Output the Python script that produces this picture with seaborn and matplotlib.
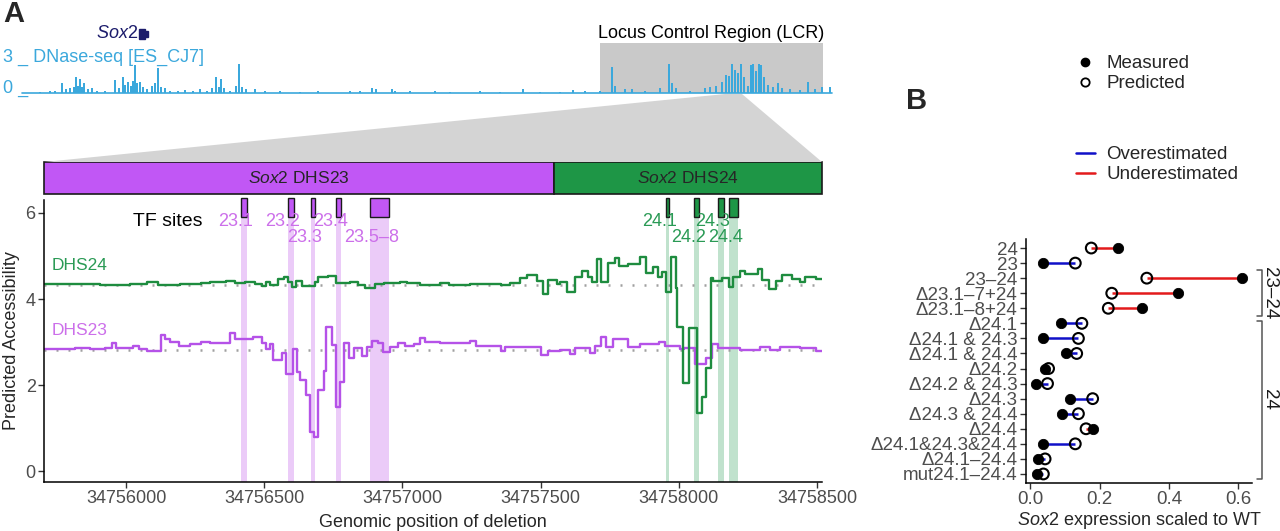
# Sox2 LCR: predicted accessibility of deletion scan (A) and expression (B)

import numpy as np
import pandas as pd
import matplotlib
matplotlib.use("Agg")
import matplotlib.pyplot as plt
import matplotlib.transforms as mtransforms
from matplotlib.patches import Polygon, Rectangle
from matplotlib.lines import Line2D
import seaborn as sns

sns.set_theme(style="white")
plt.rcParams['font.family'] = ['Liberation Sans', 'DejaVu Sans']
plt.rcParams['mathtext.fontset'] = 'custom'
plt.rcParams['mathtext.it'] = 'Liberation Sans:italic'
plt.rcParams['mathtext.rm'] = 'Liberation Sans'

# ---- data: DNase-seq overview track (track position, signal) ----
dnase_pos = [40, 50, 55, 62, 66, 70, 74, 76, 78, 80, 82, 84, 88, 92, 97, 105, 115, 119, 123, 125,
             128, 131, 133, 135, 137, 140, 143, 147, 152, 155, 158, 161, 165, 170, 178, 185, 193, 200,
             207, 212, 216, 219, 221, 224, 230, 236, 239, 242, 246, 255, 265, 280, 300, 318, 350, 360,
             372, 376, 392, 395, 410, 435, 450, 480, 500, 523, 540, 560, 573, 585, 600, 612, 615, 625,
             632, 645, 660, 669, 672, 676, 690, 705, 710, 716, 722, 726, 729, 732, 735, 738, 741, 744,
             748, 751, 753, 756, 759, 761, 764, 768, 773, 778, 782, 790, 800, 808, 815, 822, 830]
dnase_sig = [0.1, 0.15, 0.2, 0.8, 0.3, 0.45, 0.5, 1.3, 0.6, 1.2, 0.5, 0.8, 0.3, 0.4, 0.2, 0.15, 1.1, 0.4, 1.3, 0.7,
             0.9, 0.6, 1.0, 2.3, 0.8, 0.9, 0.5, 0.3, 0.6, 0.8, 2.1, 0.5, 0.4, 0.2, 0.2, 0.25, 0.15, 0.3,
             0.2, 0.4, 1.3, 0.5, 1.2, 0.4, 0.2, 0.6, 2.4, 0.5, 0.3, 0.3, 0.15, 0.15, 0.1, 0.15, 0.2, 0.15,
             0.4, 0.3, 0.35, 0.2, 0.15, 0.15, 0.1, 0.15, 0.1, 0.3, 0.1, 0.12, 0.25, 0.15, 0.2, 2.2, 0.6, 0.35,
             0.3, 0.2, 0.4, 2.4, 0.8, 0.4, 0.2, 0.4, 0.5, 0.6, 0.9, 1.5, 1.4, 2.4, 1.9, 1.7, 2.4, 1.3,
             0.6, 2.3, 2.4, 1.8, 2.4, 2.3, 1.3, 0.7, 0.5, 0.8, 0.4, 0.3, 0.25, 0.9, 0.3, 0.5, 0.5]
lcr_span = (600, 823)

# ---- data: predicted accessibility per deletion position ----
x_start, x_end = 34755703, 34758518
dhs_split = 34757548

dhs23_pos = [34755705, 34755760, 34755815, 34755870, 34755925, 34755950, 34755965, 34756025, 34756045, 34756075,
             34756125, 34756140, 34756160, 34756190, 34756230, 34756270, 34756305, 34756375, 34756395, 34756460,
             34756490, 34756505, 34756520, 34756530, 34756565, 34756580, 34756605, 34756620, 34756630, 34756650,
             34756665, 34756680, 34756695, 34756715, 34756725, 34756745, 34756760, 34756775, 34756790, 34756805,
             34756825, 34756855, 34756870, 34756890, 34756910, 34756930, 34756955, 34756985, 34757010, 34757040,
             34757065, 34757080, 34757135, 34757245, 34757265, 34757355, 34757370, 34757500, 34757525, 34757570,
             34757605, 34757625, 34757680, 34757695, 34757720, 34757735, 34757760, 34757815, 34757860, 34757930,
             34757950, 34758005, 34758020, 34758060, 34758100, 34758120, 34758140, 34758220, 34758295, 34758330,
             34758365, 34758440, 34758495]
dhs23_acc = [2.85, 2.83, 2.86, 2.84, 2.86, 2.98, 2.86, 2.90, 2.85, 2.79,
             3.16, 3.08, 3.00, 2.90, 2.95, 3.00, 2.98, 3.20, 3.07, 3.12,
             2.98, 2.83, 2.95, 2.58, 2.74, 2.26, 2.84, 2.30, 2.12, 1.77,
             0.91, 0.79, 1.88, 2.33, 3.35, 2.93, 1.49, 2.07, 2.98, 2.63,
             2.86, 2.67, 2.88, 3.02, 2.98, 2.77, 2.88, 2.98, 2.90, 2.95,
             3.10, 3.00, 2.98, 3.03, 2.90, 2.80, 2.88, 2.70, 2.80, 2.81,
             2.72, 2.86, 2.74, 2.90, 3.12, 2.88, 3.07, 2.88, 2.95, 3.00,
             2.90, 2.84, 2.86, 2.49, 2.62, 2.95, 2.86, 2.81, 2.88, 2.81,
             2.88, 2.86, 2.79]

dhs24_pos = [34755705, 34755835, 34755905, 34756015, 34756075, 34756115, 34756195, 34756270, 34756305, 34756360,
             34756395, 34756430, 34756465, 34756490, 34756505, 34756520, 34756550, 34756570, 34756585, 34756600,
             34756615, 34756635, 34756685, 34756695, 34756730, 34756760, 34756810, 34756840, 34756865, 34756900,
             34756935, 34756990, 34757015, 34757065, 34757135, 34757170, 34757245, 34757355, 34757390, 34757425,
             34757450, 34757485, 34757510, 34757525, 34757560, 34757570, 34757595, 34757625, 34757650, 34757670,
             34757685, 34757705, 34757720, 34757745, 34757770, 34757785, 34757815, 34757860, 34757880, 34757905,
             34757925, 34757940, 34757955, 34757970, 34757990, 34757995, 34758015, 34758035, 34758065, 34758085,
             34758100, 34758115, 34758125, 34758155, 34758180, 34758195, 34758220, 34758240, 34758285, 34758300,
             34758325, 34758350, 34758375, 34758410, 34758440, 34758455, 34758495]
dhs24_acc = [4.34, 4.36, 4.33, 4.36, 4.40, 4.33, 4.36, 4.37, 4.40, 4.42,
             4.37, 4.39, 4.35, 4.30, 4.40, 4.33, 4.46, 4.51, 4.40, 4.28,
             4.42, 4.30, 4.40, 4.51, 4.53, 4.37, 4.40, 4.33, 4.26, 4.35,
             4.37, 4.40, 4.37, 4.33, 4.37, 4.33, 4.36, 4.33, 4.37, 4.48,
             4.55, 4.42, 4.12, 4.44, 4.36, 4.40, 4.17, 4.52, 4.65, 4.52,
             4.40, 4.93, 4.40, 4.84, 4.95, 4.77, 4.81, 4.98, 4.60, 4.75,
             4.51, 4.63, 4.17, 4.98, 4.26, 3.35, 2.05, 3.33, 1.35, 1.72,
             2.40, 4.49, 4.42, 4.49, 4.28, 4.51, 4.65, 4.58, 4.70, 4.44,
             4.23, 4.42, 4.56, 4.47, 4.40, 4.51, 4.47]

wt23, wt24 = 2.81, 4.33

# TF sites
tf_names = ['23.1', '23.2', '23.3', '23.4', '23.5\u20138', '24.1', '24.2', '24.3', '24.4']
tf_start = [34756415, 34756585, 34756669, 34756760, 34756883, 34757954, 34758055, 34758142, 34758182]
tf_end = [34756438, 34756608, 34756684, 34756778, 34756952, 34757965, 34758073, 34758164, 34758214]
tf_row = [0, 0, 1, 0, 1, 0, 1, 0, 1]

# ---- data: panel B ----
constructs = ['24', '23', '23\u201324', '\u039423.1\u20137+24', '\u039423.1\u20138+24', '\u039424.1',
              '\u039424.1 & 24.3', '\u039424.1 & 24.4', '\u039424.2', '\u039424.2 & 24.3', '\u039424.3',
              '\u039424.3 & 24.4', '\u039424.4', '\u039424.1&24.3&24.4', '\u039424.1\u201324.4',
              'mut24.1\u201324.4']
measured = [0.254, 0.038, 0.611, 0.427, 0.323, 0.089, 0.038, 0.102, 0.043, 0.016, 0.115, 0.091, 0.182,
            0.038, 0.022, 0.020]
predicted = [0.176, 0.130, 0.336, 0.235, 0.225, 0.149, 0.139, 0.134, 0.053, 0.050, 0.180, 0.139, 0.161,
             0.130, 0.043, 0.038]

PURPLE = '#C157F5'
GREEN = '#1E9646'
PURPLE_LINE = '#B552E8'
GREEN_LINE = '#1E8C3F'
PURPLE_TXT = '#CC6FEA'
GREEN_TXT = '#2A9A55'
PURPLE_BAND = '#EBCBF8'
GREEN_BAND = '#C0E2CD'
DNASE = '#3BA8DC'
TICK_TXT = '#4D4D4D'

W, H = 1280, 531
fig = plt.figure(figsize=(W / 100, H / 100), dpi=100)


def fx(px):
    return px / W


def fy(py):
    return 1 - py / H


def box(l, t, r, b):
    return [fx(l), fy(b), fx(r) - fx(l), fy(t) - fy(b)]


# ---- zoom wedge between overview and DHS bar ----
fig.patches.append(Polygon([(fx(725), fy(94)), (fx(742), fy(94)), (fx(822), fy(162)), (fx(44), fy(162))],
                           closed=True, transform=fig.transFigure, facecolor='#D4D4D4',
                           edgecolor='none', zorder=0))

# ---- overview DNase track ----
axt = fig.add_axes(box(20, 40, 835, 95))
axt.set_facecolor('none')
axt.set_xlim(20, 835)
axt.set_ylim(-0.167, 4.42)
axt.axis('off')
axt.bar(lcr_span[0], 4.17, width=lcr_span[1] - lcr_span[0], align='edge', color='#C9C9C9', lw=0,
        zorder=0)
axt.plot([22, 832], [0, 0], color=DNASE, lw=1.2, zorder=1)
axt.bar(dnase_pos, dnase_sig, width=2.8, color=DNASE, lw=0, edgecolor='none', zorder=2)
axt.text(sum(lcr_span) / 2, 5.0, 'Locus Control Region (LCR)', ha='center', va='center', fontsize=13,
         color='black')

fig.text(fx(3), fy(57), '3 _ DNase-seq [ES_CJ7]', color=DNASE, fontsize=13, va='center')
fig.text(fx(3), fy(88), '0 _', color=DNASE, fontsize=13, va='center')
fig.text(fx(96), fy(34), r'$\it{Sox2}$', color='#1B1B6B', fontsize=13, va='center')
fig.patches.append(Rectangle((fx(139), fy(39)), fx(6), 10 / H, transform=fig.transFigure,
                             color='#1B1B6B'))
fig.patches.append(Rectangle((fx(145), fy(37)), fx(3), 6 / H, transform=fig.transFigure, color='#1B1B6B'))
fig.text(fx(3), fy(14), 'A', fontsize=21, fontweight='bold', va='center')
fig.text(fx(906), fy(101), 'B', fontsize=21, fontweight='bold', va='center')

# ---- DHS bar ----
axbar = fig.add_axes(box(44, 162, 822, 194))
axbar.set_facecolor('none')
axbar.set_xlim(x_start, x_end)
axbar.set_ylim(0, 1)
axbar.axis('off')
axbar.bar(x_start, 1, width=dhs_split - x_start, align='edge', color=PURPLE, edgecolor='#1A1A1A',
          lw=1.2, clip_on=False)
axbar.bar(dhs_split, 1, width=x_end - dhs_split, align='edge', color=GREEN, edgecolor='#1A1A1A',
          lw=1.2, clip_on=False)
axbar.text((x_start + dhs_split) / 2, 0.5, r'$\it{Sox2}$ DHS23', ha='center', va='center', fontsize=12.5)
axbar.text((dhs_split + x_end) / 2, 0.5, r'$\it{Sox2}$ DHS24', ha='center', va='center', fontsize=12.5)

# ---- main accessibility panel ----
ax = fig.add_axes(box(44, 200, 822, 482))
ax.set_facecolor('none')
ymin, ymax = -0.25, 6.3
for name, s, e, r in zip(tf_names, tf_start, tf_end, tf_row):
    is23 = name.startswith('23')
    band = PURPLE_BAND if is23 else GREEN_BAND
    ax.bar(s, 5.91 - ymin, width=e - s, bottom=ymin, align='edge', color=band, lw=0, zorder=0)
    ax.bar(s, 6.35 - 5.91, width=e - s, bottom=5.91, align='edge', color=PURPLE if is23 else GREEN,
           edgecolor='#1A1A1A', lw=1.0, clip_on=False, zorder=3)
    ax.text((s + e) / 2 - 30, 5.79 if r == 0 else 5.42, name, ha='center', va='center', fontsize=13,
            color=PURPLE_TXT if is23 else GREEN_TXT, zorder=4)

ax.axhline(wt24, color='#A0A0A0', lw=1.8, ls=(0, (0.8, 4)), zorder=1)
ax.axhline(wt23, color='#A0A0A0', lw=1.8, ls=(0, (0.8, 4)), zorder=1)

df23 = pd.DataFrame({'pos': dhs23_pos + [x_end], 'acc': dhs23_acc + [dhs23_acc[-1]]})
df24 = pd.DataFrame({'pos': dhs24_pos + [x_end], 'acc': dhs24_acc + [dhs24_acc[-1]]})
sns.lineplot(data=df23, x='pos', y='acc', drawstyle='steps-post', estimator=None, sort=False,
             color=PURPLE_LINE, lw=1.7, ax=ax, zorder=2)
sns.lineplot(data=df24, x='pos', y='acc', drawstyle='steps-post', estimator=None, sort=False,
             color=GREEN_LINE, lw=1.7, ax=ax, zorder=2)

ax.text(34755732, 4.79, 'DHS24', color=GREEN_TXT, fontsize=12.5, va='center')
ax.text(34755732, 3.28, 'DHS23', color=PURPLE_TXT, fontsize=12.5, va='center')
ax.text(34756025, 5.79, 'TF sites', color='black', fontsize=14, va='center')

ax.set_xlim(x_start, x_end)
ax.set_ylim(ymin, ymax)
xt = [34756000, 34756500, 34757000, 34757500, 34758000, 34758500]
ax.set_xticks(xt, [str(v) for v in xt])
ax.set_yticks([0, 2, 4, 6], ['0', '2', '4', '6'])
ax.set_xlabel('Genomic position of deletion', fontsize=13, labelpad=5)
ax.set_ylabel('Predicted Accessibility', fontsize=13, labelpad=4)
sns.despine(ax=ax)
for sp in ['left', 'bottom']:
    ax.spines[sp].set_color('black')
    ax.spines[sp].set_linewidth(1.1)
ax.tick_params(axis='both', which='major', length=4, width=1, color='#333333', labelcolor=TICK_TXT,
               labelsize=13, left=True, bottom=True, pad=2)

# ---- panel B ----
axb = fig.add_axes(box(1026, 239, 1252, 483))
axb.set_facecolor('none')
rows = np.arange(len(constructs))
dfb = pd.DataFrame({'construct': constructs, 'row': rows, 'measured': measured, 'predicted': predicted})
seg_col = ['#E31A1C' if m > p else '#1010C8' for m, p in zip(measured, predicted)]
axb.hlines(dfb['row'], dfb['measured'], dfb['predicted'], colors=seg_col, lw=1.8, zorder=1)
sns.scatterplot(data=dfb, x='measured', y='row', color='black', edgecolor='black', s=55, ax=axb,
                zorder=3, legend=False)
sns.scatterplot(data=dfb, x='predicted', y='row', facecolor='none', edgecolor='black', linewidth=1.5,
                s=60, ax=axb, zorder=4, legend=False)
axb.set_ylim(len(constructs) - 0.4, -0.6)
axb.set_xlim(-0.012, 0.639)
axb.set_yticks(rows, constructs)
axb.set_xticks([0, 0.2, 0.4, 0.6], ['0.0', '0.2', '0.4', '0.6'])
axb.set_ylabel('')
axb.set_xlabel(r'$\it{Sox2}$ expression scaled to WT', fontsize=13, labelpad=1)
sns.despine(ax=axb)
for sp in ['left', 'bottom']:
    axb.spines[sp].set_color('black')
    axb.spines[sp].set_linewidth(1.1)
axb.tick_params(axis='x', length=4, width=1, color='#333333', labelcolor=TICK_TXT, labelsize=13.5,
                bottom=True, pad=2)
axb.tick_params(axis='y', length=4, width=1, color='#333333', labelcolor=TICK_TXT, labelsize=13.5,
                left=True, pad=2)

# group brackets
trans = mtransforms.blended_transform_factory(axb.transAxes, axb.transData)
for label, top, bot in [('23\u201324', 1.46, 4.51), ('24', 4.84, 15.33)]:
    axb.plot([1.022, 1.044, 1.044, 1.022], [top, top, bot, bot], color='#555555', lw=1.1,
             transform=trans, clip_on=False)
    axb.text(1.078, (top + bot) / 2, label, rotation=-90, ha='center', va='center', fontsize=13.5,
             color='#1A1A1A', transform=trans)

# legends
h1 = [Line2D([], [], marker='o', ls='none', color='black', markersize=6),
      Line2D([], [], marker='o', ls='none', markerfacecolor='none', markeredgecolor='black',
             markeredgewidth=1.3, markersize=6)]
leg1 = fig.legend(h1, ['Measured', 'Predicted'], loc='upper left', bbox_to_anchor=(fx(1076), fy(55)),
                  bbox_transform=fig.transFigure, frameon=False, fontsize=13.5, handlelength=1.0,
                  handletextpad=0.6, labelspacing=0.15, borderpad=0, borderaxespad=0)
h2 = [Line2D([], [], color='#1010C8', lw=1.8), Line2D([], [], color='#E31A1C', lw=1.8)]
leg2 = fig.legend(h2, ['Overestimated', 'Underestimated'], loc='upper left',
                  bbox_to_anchor=(fx(1076), fy(146)), bbox_transform=fig.transFigure, frameon=False,
                  fontsize=13.5, handlelength=1.0, handletextpad=0.6, labelspacing=0.15, borderpad=0,
                  borderaxespad=0)

plt.savefig("out.png", dpi=100)
